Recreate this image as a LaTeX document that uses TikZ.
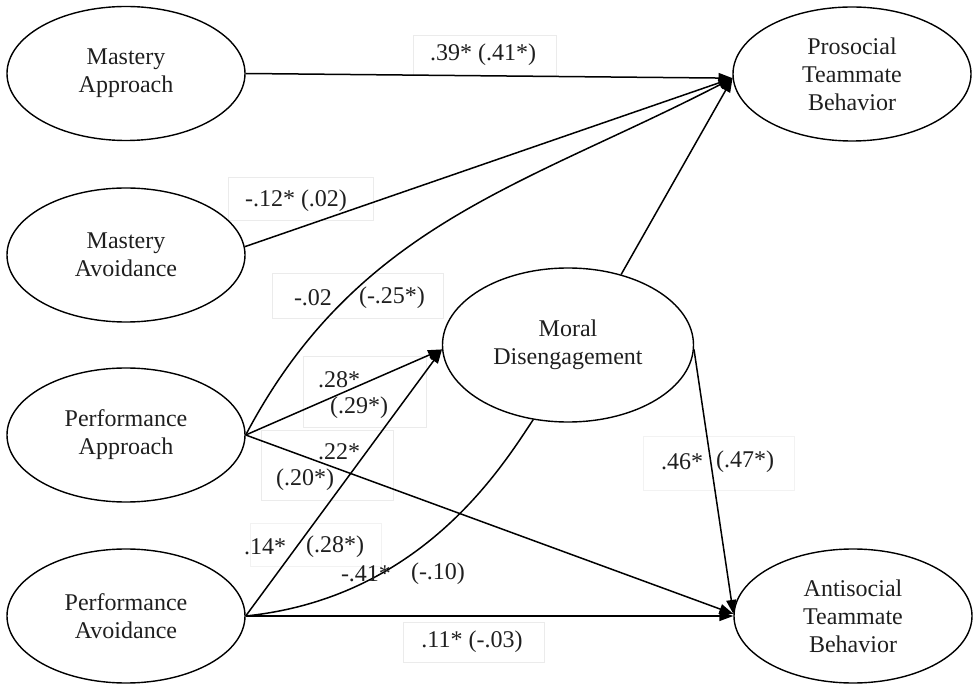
\documentclass[tikz,border=0pt]{standalone}
\usepackage{fontspec}
\setmainfont{Liberation Serif}
\usetikzlibrary{shapes.geometric,arrows.meta}
\begin{document}
\begin{tikzpicture}[x=1pt,y=-1pt,
  every node/.style={font=\fontsize{24}{28}\selectfont, text=black!88},
  latent/.style={draw, ellipse, line width=1.4pt, minimum width=238pt, minimum height=134pt, inner sep=0pt, align=center},
  pathto/.style={line width=1.5pt, -{Triangle[length=14pt,width=10pt]}},
  plainpath/.style={line width=1.5pt},
  lblbox/.style={draw=black!8, line width=0.8pt, inner sep=0pt},
  coef/.style={inner sep=0pt, anchor=center}
]
\useasboundingbox (0,0) rectangle (975,684);

% faint label boxes
\node[lblbox, minimum width=143pt, minimum height=40pt] (b1) at (484.5,55) {};
\node[lblbox, minimum width=145pt, minimum height=43pt] (b2) at (300.5,198.5) {};
\node[lblbox, minimum width=171pt, minimum height=45pt] (b3) at (357.5,295.5) {};
\node[lblbox, minimum width=123pt, minimum height=71pt] (b4) at (364.5,391.5) {};
\node[lblbox, minimum width=132pt, minimum height=70pt] (b5) at (327,465) {};
\node[lblbox, draw=black!5, minimum width=131pt, minimum height=43pt] (b6) at (315.5,544.5) {};
\node[lblbox, minimum width=141pt, minimum height=40pt] (b8) at (473.5,642) {};
\node[lblbox, draw=black!5, minimum width=151pt, minimum height=54pt] (b9) at (718.5,463) {};

% latent variables
\node[latent] (ma) at (126,73.5) {Mastery\\Approach};
\node[latent] (mav) at (126,255) {Mastery\\Avoidance};
\node[latent] (pap) at (126,435) {Performance\\Approach};
\node[latent] (pav) at (126,616) {Performance\\Avoidance};
\node[latent, minimum width=251pt, minimum height=154pt] (md) at (568,345) {Moral\\Disengagement};
\node[latent] (pro) at (852,74) {Prosocial\\Teammate\\Behavior};
\node[latent] (anti) at (853,616) {Antisocial\\Teammate\\Behavior};

% paths
\draw[pathto] (ma.east) -- (pro.182);
\draw[pathto] (mav.4) -- (pro.182);
\draw[pathto] (pap.east) .. controls (357,224) and (524,186) .. (pro.182);
\draw[pathto] (md.53) -- (pro.182);
\draw[pathto] (pap.east) -- (md.182);
\draw[pathto] (pav.east) -- (md.182);
\draw[plainpath] (pav.east) .. controls (420,598) and (500,470) .. (md.245);
\draw[pathto] (pap.east) -- (anti.179);
\draw[pathto] (pav.east) -- (anti.180);
\draw[pathto] (md.-2) -- (anti.179);

% coefficients
\node[coef] (t1) at (483,55) {.39* (.41*)};
\node[coef] (t2) at (296,201) {-.12* (.02)};
\node[coef] (t3a) at (313,298) {-.02};
\node[coef] (t3b) at (392,298) {(-.25*)};
\node[coef] (t4a) at (339,380) {.28*};
\node[coef] (t4b) at (359,408) {(.29*)};
\node[coef] (t5a) at (339,452) {.22*};
\node[coef] (t5b) at (305,480) {(.20*)};
\node[coef] (t6a) at (265,547) {.14*};
\node[coef] (t6b) at (335,547) {(.28*)};
\node[coef] (t7a) at (366,574) {-.41*};
\node[coef] (t7b) at (438,574) {(-.10)};
\node[coef] (t8) at (472,642) {.11* (-.03)};
\node[coef] (t9a) at (682,462) {.46*};
\node[coef] (t9b) at (745,462) {(.47*)};
\end{tikzpicture}
\end{document}
